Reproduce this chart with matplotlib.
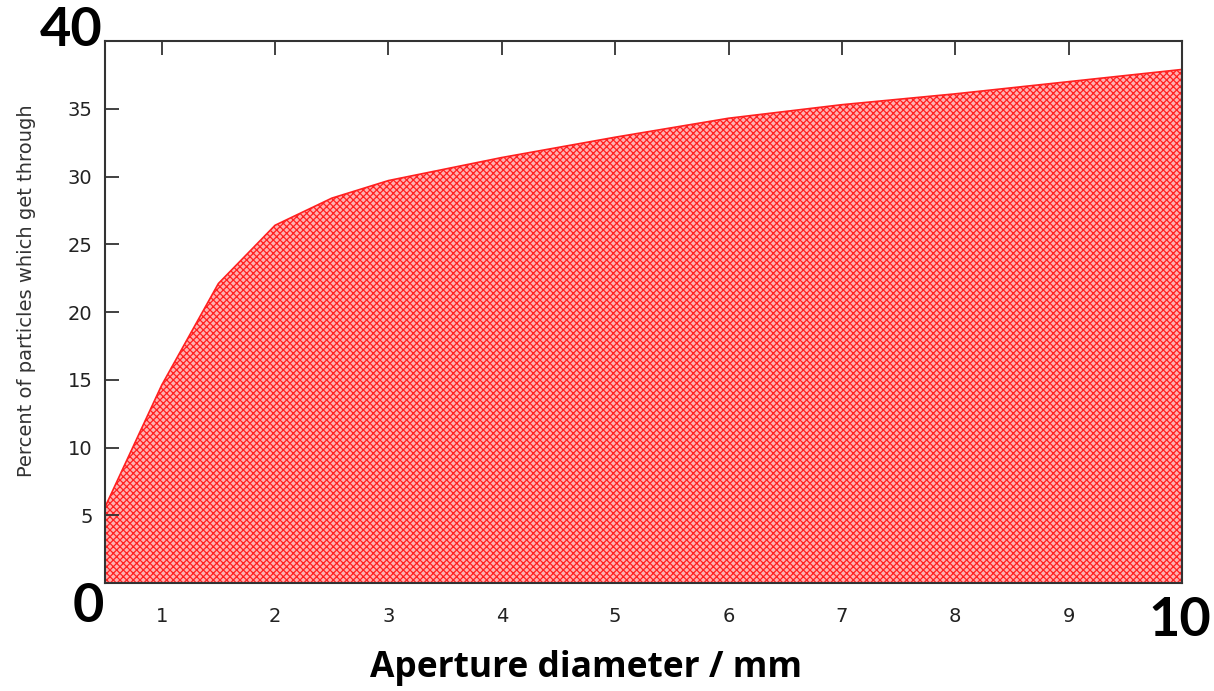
import matplotlib
matplotlib.use("Agg")
import matplotlib.pyplot as plt

# aperture diameter (mm) and percent transmitted
diameter = [0.5, 1, 1.5, 2, 2.5, 3, 4, 5, 6, 7, 8, 9, 10]
percent = [5.6, 14.6, 22.1, 26.4, 28.4, 29.7, 31.4, 32.9, 34.3, 35.3, 36.1, 37.0, 37.9]
xticks = [1, 2, 3, 4, 5, 6, 7, 8, 9]
yticks = [5, 10, 15, 20, 25, 30, 35]

plt.rcParams['hatch.color'] = '#ff1010'
plt.rcParams['hatch.linewidth'] = 0.9

fig = plt.figure(figsize=(12.14, 6.91), dpi=100)
ax = fig.add_axes([105 / 1214, 1 - 583 / 691, (1182 - 105) / 1214, (583 - 41) / 691])

ax.fill_between(diameter, 0, percent, facecolor='#ffb0b0', hatch='xxxxx',
                edgecolor='#ff2020', linewidth=0, zorder=1)
ax.plot(diameter, percent, color='#ff2020', lw=1.2, zorder=2)

ax.set_xlim(0.5, 10)
ax.set_ylim(0, 40)
ax.set_xticks(xticks)
ax.set_yticks(yticks)

ax.tick_params(axis='x', direction='in', top=True, bottom=False, length=10, width=1.3,
               pad=17, labelsize=14, labelcolor='#222222', color='#333333')
ax.tick_params(axis='y', direction='in', left=True, right=False, length=10, width=1.3,
               pad=9, labelsize=14, labelcolor='#222222', color='#333333')
for sp in ax.spines.values():
    sp.set_color('#333333')
    sp.set_linewidth(1.5)
    sp.set_zorder(5)

fig.text(27 / 1214, 1 - 291 / 691, "Percent of particles which get through", rotation=90,
         ha='center', va='center', fontsize=14, color='#333333')

fig.text(586 / 1214, 1 - 668 / 691, "Aperture diameter / mm", ha='center', va='center',
         fontsize=25.5, fontweight='bold', family='Open Sans')
# big axis end labels
fig.text(71 / 1214, 1 - 30 / 691, "40", ha='center', va='center', fontsize=39, fontweight='bold', family='Lato')
fig.text(88 / 1214, 1 - 607 / 691, "0", ha='center', va='center', fontsize=39, fontweight='bold', family='Lato')
fig.text(1180 / 1214, 1 - 620 / 691, "10", ha='center', va='center', fontsize=39, fontweight='bold', family='Lato')

fig.savefig("out.png", dpi=100)
